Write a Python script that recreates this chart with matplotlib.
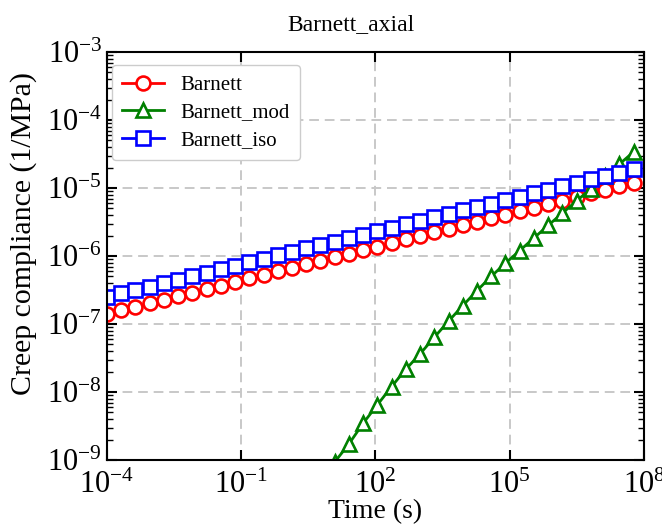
import matplotlib
matplotlib.use("Agg")
import matplotlib.pyplot as plt
from matplotlib.ticker import LogLocator, NullLocator

# time points (s)
time = [1.00e-4, 2.08e-4, 4.33e-4, 9.00e-4, 1.87e-3, 3.89e-3, 8.09e-3, 1.68e-2,
        3.50e-2, 7.28e-2, 0.151, 0.315, 0.655, 1.36, 2.83, 5.89, 12.2, 25.5,
        53.0, 110, 229, 476, 991, 2.06e3, 4.29e3, 8.91e3, 1.85e4, 3.85e4,
        8.02e4, 1.67e5, 3.47e5, 7.21e5, 1.50e6, 3.12e6, 6.49e6, 1.35e7,
        2.81e7, 5.83e7]

# creep compliance (1/MPa)
barnett = [1.40e-7, 1.58e-7, 1.78e-7, 2.01e-7, 2.27e-7, 2.56e-7, 2.88e-7, 3.25e-7,
           3.66e-7, 4.13e-7, 4.67e-7, 5.26e-7, 5.93e-7, 6.68e-7, 7.53e-7, 8.49e-7,
           9.57e-7, 1.08e-6, 1.22e-6, 1.37e-6, 1.55e-6, 1.75e-6, 1.97e-6, 2.22e-6,
           2.51e-6, 2.82e-6, 3.18e-6, 3.59e-6, 4.05e-6, 4.56e-6, 5.15e-6, 5.81e-6,
           6.55e-6, 7.38e-6, 8.32e-6, 9.38e-6, 1.06e-5, 1.19e-5]

barnett_mod = [2.2e-15, 5.0e-15, 1.2e-14, 2.6e-14, 6.0e-14, 1.4e-13, 3.1e-13, 7.1e-13,
               1.6e-12, 3.6e-12, 8.1e-12, 1.8e-11, 4.1e-11, 9.1e-11, 2.0e-10,
               4.4e-10, 9.3e-10, 1.72e-9, 3.47e-9, 6.46e-9, 1.20e-8, 2.16e-8,
               3.63e-8, 6.37e-8, 1.10e-7, 1.86e-7, 3.09e-7, 5.01e-7, 7.85e-7,
               1.20e-6, 1.84e-6, 2.82e-6, 4.27e-6, 6.46e-6, 9.77e-6, 1.48e-5,
               2.24e-5, 3.39e-5]

barnett_iso = [2.49e-7, 2.81e-7, 3.16e-7, 3.55e-7, 3.99e-7, 4.48e-7, 5.04e-7, 5.66e-7,
               6.37e-7, 7.16e-7, 8.05e-7, 9.06e-7, 1.02e-6, 1.14e-6, 1.29e-6, 1.45e-6,
               1.63e-6, 1.83e-6, 2.06e-6, 2.31e-6, 2.60e-6, 2.92e-6, 3.28e-6, 3.69e-6,
               4.15e-6, 4.67e-6, 5.25e-6, 5.90e-6, 6.64e-6, 7.45e-6, 8.38e-6, 9.42e-6,
               1.06e-5, 1.19e-5, 1.34e-5, 1.51e-5, 1.69e-5, 1.91e-5]

plt.rcParams['font.family'] = ['Liberation Serif', 'DejaVu Serif']
plt.rcParams['mathtext.fontset'] = 'stix'

fig = plt.figure(figsize=(6.62, 5.26), dpi=100)
ax = fig.add_axes([0.1616, 0.1255, 0.8112, 0.7756])

style = dict(markersize=10, markerfacecolor='white', linewidth=2.0, markeredgewidth=1.9)
ax.plot(time, barnett, '-o', color='red', label='Barnett', **style)
ax.plot(time, barnett_mod, '-^', color='green', label='Barnett_mod', **style)
ax.plot(time, barnett_iso, '-s', color='blue', label='Barnett_iso', **style)

ax.set_xscale('log')
ax.set_yscale('log')
ax.set_xlim(1e-4, 1e8)
ax.set_ylim(1e-9, 1e-3)

ax.set_xticks([1e-4, 1e-1, 1e2, 1e5, 1e8])
ax.xaxis.set_minor_locator(NullLocator())
ax.yaxis.set_major_locator(LogLocator(base=10, numticks=20))
ax.yaxis.set_minor_locator(LogLocator(base=10, subs=range(2, 10), numticks=20))

ax.tick_params(which='both', direction='in', top=True, right=True, labelsize=22)
ax.tick_params(which='major', length=7, width=1.5)
ax.tick_params(which='minor', length=4, width=1.0)
ax.tick_params(axis='x', which='major', pad=8)
for s in ax.spines.values():
    s.set_linewidth(1.5)

ax.grid(True, which='major', linestyle=(0, (5, 3)), color='#c8c8c8', linewidth=1.4)

ax.set_xlabel('Time (s)', fontsize=20, labelpad=-1)
ax.set_ylabel('Creep compliance (1/MPa)', fontsize=21.5)
ax.yaxis.set_label_coords(-0.130, 0.556)
ax.set_title('Barnett_axial', fontsize=17, pad=16, x=0.454)

ax.legend(loc='upper left', bbox_to_anchor=(0.009, 0.968), borderaxespad=0,
          fontsize=15, framealpha=1, edgecolor='#cccccc', handlelength=2.0,
          labelspacing=0.38, borderpad=0.5)

fig.savefig('out.png', dpi=100)
